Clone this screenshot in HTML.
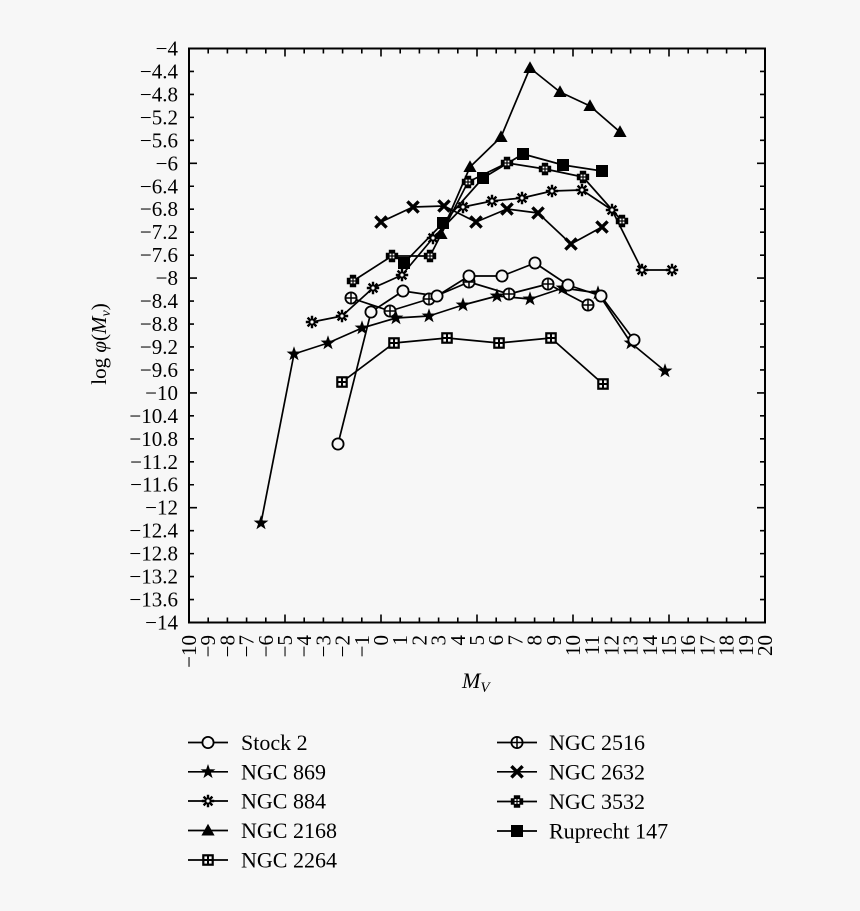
<!DOCTYPE html>
<html><head><meta charset="utf-8"><style>
html,body{margin:0;padding:0;background:#f7f7f7;}
svg{display:block;}
text{font-family:"Liberation Serif",serif;fill:#000;}
</style></head><body>
<svg width="860" height="911" viewBox="0 0 860 911" xmlns="http://www.w3.org/2000/svg">
<defs>
<g id="mCirc"><circle r="5.6" fill="#f7f7f7" stroke="#000" stroke-width="1.8"/></g>
<g id="mCircPlus"><circle r="5.6" fill="#f7f7f7" stroke="#000" stroke-width="1.8"/><path d="M-5.6 0H5.6M0 -5.6V5.6" stroke="#000" stroke-width="1.5"/></g>
<g id="mStar"><path d="M0,-7.8 L1.8,-2.5 L7.4,-2.4 L2.95,0.95 L4.6,6.3 L0,3.1 L-4.6,6.3 L-2.95,0.95 L-7.4,-2.4 L-1.8,-2.5 Z" fill="#000"/></g>
<g id="mAst"><path d="M-6.2 0H6.2M0 -6.2V6.2M-4.4 -4.4L4.4 4.4M-4.4 4.4L4.4 -4.4" stroke="#000" stroke-width="2.4"/><circle r="1.6" fill="#f7f7f7"/></g>
<g id="mTri"><path d="M0,-6.8 L6.6,5 L-6.6,5 Z" fill="#000"/></g>
<g id="mSqGrid"><rect x="-5.8" y="-5.8" width="11.6" height="11.6" fill="#000"/><rect x="-3.6" y="-3.6" width="2.6" height="2.6" fill="#f7f7f7"/><rect x="1" y="-3.6" width="2.6" height="2.6" fill="#f7f7f7"/><rect x="-3.6" y="1" width="2.6" height="2.6" fill="#f7f7f7"/><rect x="1" y="1" width="2.6" height="2.6" fill="#f7f7f7"/></g>
<g id="mX"><path d="M-5.6 -5.6L5.6 5.6M-5.6 5.6L5.6 -5.6" stroke="#000" stroke-width="3.4"/></g>
<g id="mPlusSq"><path d="M-3.2,-6.2 H3.2 V-3.2 H6.2 V3.2 H3.2 V6.2 H-3.2 V3.2 H-6.2 V-3.2 H-3.2 Z" fill="#000"/><rect x="-2.4" y="-2.4" width="1.8" height="1.8" fill="#f7f7f7"/><rect x="0.6" y="-2.4" width="1.8" height="1.8" fill="#f7f7f7"/><rect x="-2.4" y="0.6" width="1.8" height="1.8" fill="#f7f7f7"/><rect x="0.6" y="0.6" width="1.8" height="1.8" fill="#f7f7f7"/></g>
<g id="mSq"><rect x="-6" y="-6" width="12" height="12" fill="#000"/></g>
</defs>

<rect x="0" y="0" width="860" height="911" fill="#f7f7f7"/>

<!-- frame -->
<rect x="189" y="48.5" width="576" height="574" fill="none" stroke="#000" stroke-width="2"/>

<!-- ticks -->
<g stroke="#000" stroke-width="1.6" fill="none">
<path d="M189 71.46h5M189 94.42h5M189 117.38h5M189 140.34h5M189 163.3h8M189 186.26h5M189 209.22h5M189 232.18h5M189 255.14h5M189 278.1h8M189 301.06h5M189 324.02h5M189 346.98h5M189 369.94h5M189 392.9h8M189 415.86h5M189 438.82h5M189 461.78h5M189 484.74h5M189 507.7h8M189 530.66h5M189 553.62h5M189 576.58h5M189 599.54h5"/>
<path d="M765 71.46h-5M765 94.42h-5M765 117.38h-5M765 140.34h-5M765 163.3h-8M765 186.26h-5M765 209.22h-5M765 232.18h-5M765 255.14h-5M765 278.1h-8M765 301.06h-5M765 324.02h-5M765 346.98h-5M765 369.94h-5M765 392.9h-8M765 415.86h-5M765 438.82h-5M765 461.78h-5M765 484.74h-5M765 507.7h-8M765 530.66h-5M765 553.62h-5M765 576.58h-5M765 599.54h-5"/>
<path d="M208.2 622.5v-5M227.4 622.5v-5M246.6 622.5v-5M265.8 622.5v-5M285 622.5v-8M304.2 622.5v-5M323.4 622.5v-5M342.6 622.5v-5M361.8 622.5v-5M381 622.5v-8M400.2 622.5v-5M419.4 622.5v-5M438.6 622.5v-5M457.8 622.5v-5M477 622.5v-8M496.2 622.5v-5M515.4 622.5v-5M534.6 622.5v-5M553.8 622.5v-5M573 622.5v-8M592.2 622.5v-5M611.4 622.5v-5M630.6 622.5v-5M649.8 622.5v-5M669 622.5v-8M688.2 622.5v-5M707.4 622.5v-5M726.6 622.5v-5M745.8 622.5v-5"/>
<path d="M208.2 48.5v5M227.4 48.5v5M246.6 48.5v5M265.8 48.5v5M285 48.5v8M304.2 48.5v5M323.4 48.5v5M342.6 48.5v5M361.8 48.5v5M381 48.5v8M400.2 48.5v5M419.4 48.5v5M438.6 48.5v5M457.8 48.5v5M477 48.5v8M496.2 48.5v5M515.4 48.5v5M534.6 48.5v5M553.8 48.5v5M573 48.5v8M592.2 48.5v5M611.4 48.5v5M630.6 48.5v5M649.8 48.5v5M669 48.5v8M688.2 48.5v5M707.4 48.5v5M726.6 48.5v5M745.8 48.5v5"/>
</g>

<!-- y tick labels -->
<g font-size="21" text-anchor="end">
<text x="178" y="55.5">−4</text>
<text x="178" y="78.5">−4.4</text>
<text x="178" y="101.4">−4.8</text>
<text x="178" y="124.4">−5.2</text>
<text x="178" y="147.3">−5.6</text>
<text x="178" y="170.3">−6</text>
<text x="178" y="193.3">−6.4</text>
<text x="178" y="216.2">−6.8</text>
<text x="178" y="239.2">−7.2</text>
<text x="178" y="262.1">−7.6</text>
<text x="178" y="285.1">−8</text>
<text x="178" y="308.1">−8.4</text>
<text x="178" y="331">−8.8</text>
<text x="178" y="354">−9.2</text>
<text x="178" y="376.9">−9.6</text>
<text x="178" y="399.9">−10</text>
<text x="178" y="422.9">−10.4</text>
<text x="178" y="445.8">−10.8</text>
<text x="178" y="468.8">−11.2</text>
<text x="178" y="491.7">−11.6</text>
<text x="178" y="514.7">−12</text>
<text x="178" y="537.7">−12.4</text>
<text x="178" y="560.6">−12.8</text>
<text x="178" y="583.6">−13.2</text>
<text x="178" y="606.5">−13.6</text>
<text x="178" y="629.5">−14</text>
</g>

<!-- x tick labels (rotated) -->
<g font-size="21" text-anchor="end">
<text transform="translate(196,635) rotate(-90)">−10</text>
<text transform="translate(215.2,635) rotate(-90)">−9</text>
<text transform="translate(234.4,635) rotate(-90)">−8</text>
<text transform="translate(253.6,635) rotate(-90)">−7</text>
<text transform="translate(272.8,635) rotate(-90)">−6</text>
<text transform="translate(292,635) rotate(-90)">−5</text>
<text transform="translate(311.2,635) rotate(-90)">−4</text>
<text transform="translate(330.4,635) rotate(-90)">−3</text>
<text transform="translate(349.6,635) rotate(-90)">−2</text>
<text transform="translate(368.8,635) rotate(-90)">−1</text>
<text transform="translate(388,635) rotate(-90)">0</text>
<text transform="translate(407.2,635) rotate(-90)">1</text>
<text transform="translate(426.4,635) rotate(-90)">2</text>
<text transform="translate(445.6,635) rotate(-90)">3</text>
<text transform="translate(464.8,635) rotate(-90)">4</text>
<text transform="translate(484,635) rotate(-90)">5</text>
<text transform="translate(503.2,635) rotate(-90)">6</text>
<text transform="translate(522.4,635) rotate(-90)">7</text>
<text transform="translate(541.6,635) rotate(-90)">8</text>
<text transform="translate(560.8,635) rotate(-90)">9</text>
<text transform="translate(580,635) rotate(-90)">10</text>
<text transform="translate(599.2,635) rotate(-90)">11</text>
<text transform="translate(618.4,635) rotate(-90)">12</text>
<text transform="translate(637.6,635) rotate(-90)">13</text>
<text transform="translate(656.8,635) rotate(-90)">14</text>
<text transform="translate(676,635) rotate(-90)">15</text>
<text transform="translate(695.2,635) rotate(-90)">16</text>
<text transform="translate(714.4,635) rotate(-90)">17</text>
<text transform="translate(733.6,635) rotate(-90)">18</text>
<text transform="translate(752.8,635) rotate(-90)">19</text>
<text transform="translate(772,635) rotate(-90)">20</text>
</g>

<!-- axis labels -->
<text x="462" y="688" font-size="22" font-style="italic">M<tspan font-size="15" dy="4">V</tspan></text>
<text transform="translate(106,344) rotate(-90)" font-size="21" text-anchor="middle">log <tspan font-style="italic">φ</tspan>(<tspan font-style="italic">M</tspan><tspan font-size="14" font-style="italic" dy="4">v</tspan><tspan dy="-4">)</tspan></text>

<!-- series lines -->
<g fill="none" stroke="#000" stroke-width="1.7" stroke-linejoin="round">
<polyline points="338,444 371,312 403,291 437,296 469,276 502,276 535,263 568,285 601,296 634,340"/>
<polyline points="261,523 294,354 328,343 362,328 396,318 429,316 463,305 497,296 530,299 563,288 598,293 631,343 665,371"/>
<polyline points="312,322 342,316 373,288 402,275 433,238 463,207 492,201 522,198 552,191 582,190 612,210 642,270 672,270"/>
<polyline points="441,234 470,167 501,137 530,68 560,92 590,106 620,132"/>
<polyline points="342,382 394,343 447,338 499,343 551,338 603,384"/>
<polyline points="351,298 390,311 429,299 469,282 509,294 548,284 588,305"/>
<polyline points="381,222 413,207 444,206 476,222 507,209 538,213 571,244 602,227"/>
<polyline points="353,281 392,256 430,256 468,182 507,163 545,169 583,177 622,221"/>
<polyline points="404,263 443,223 483,178 523,154 563,165 602,171"/>
</g>

<!-- markers -->
<g>
<!-- NGC 2264 -->
<use href="#mSqGrid" x="342" y="382"/><use href="#mSqGrid" x="394" y="343"/><use href="#mSqGrid" x="447" y="338"/><use href="#mSqGrid" x="499" y="343"/><use href="#mSqGrid" x="551" y="338"/><use href="#mSqGrid" x="603" y="384"/>
<!-- NGC 869 -->
<use href="#mStar" x="261" y="523"/><use href="#mStar" x="294" y="354"/><use href="#mStar" x="328" y="343"/><use href="#mStar" x="362" y="328"/><use href="#mStar" x="396" y="318"/><use href="#mStar" x="429" y="316"/><use href="#mStar" x="463" y="305"/><use href="#mStar" x="497" y="296"/><use href="#mStar" x="530" y="299"/><use href="#mStar" x="563" y="288"/><use href="#mStar" x="598" y="293"/><use href="#mStar" x="631" y="343"/><use href="#mStar" x="665" y="371"/>
<!-- NGC 2516 -->
<use href="#mCircPlus" x="351" y="298"/><use href="#mCircPlus" x="390" y="311"/><use href="#mCircPlus" x="429" y="299"/><use href="#mCircPlus" x="469" y="282"/><use href="#mCircPlus" x="509" y="294"/><use href="#mCircPlus" x="548" y="284"/><use href="#mCircPlus" x="588" y="305"/>
<!-- Stock 2 -->
<use href="#mCirc" x="338" y="444"/><use href="#mCirc" x="371" y="312"/><use href="#mCirc" x="403" y="291"/><use href="#mCirc" x="437" y="296"/><use href="#mCirc" x="469" y="276"/><use href="#mCirc" x="502" y="276"/><use href="#mCirc" x="535" y="263"/><use href="#mCirc" x="568" y="285"/><use href="#mCirc" x="601" y="296"/><use href="#mCirc" x="634" y="340"/>
<!-- NGC 884 -->
<use href="#mAst" x="312" y="322"/><use href="#mAst" x="342" y="316"/><use href="#mAst" x="373" y="288"/><use href="#mAst" x="402" y="275"/><use href="#mAst" x="433" y="238"/><use href="#mAst" x="463" y="207"/><use href="#mAst" x="492" y="201"/><use href="#mAst" x="522" y="198"/><use href="#mAst" x="552" y="191"/><use href="#mAst" x="582" y="190"/><use href="#mAst" x="612" y="210"/><use href="#mAst" x="642" y="270"/><use href="#mAst" x="672" y="270"/>
<!-- NGC 2632 -->
<use href="#mX" x="381" y="222"/><use href="#mX" x="413" y="207"/><use href="#mX" x="444" y="206"/><use href="#mX" x="476" y="222"/><use href="#mX" x="507" y="209"/><use href="#mX" x="538" y="213"/><use href="#mX" x="571" y="244"/><use href="#mX" x="602" y="227"/>
<!-- NGC 3532 -->
<use href="#mPlusSq" x="353" y="281"/><use href="#mPlusSq" x="392" y="256"/><use href="#mPlusSq" x="430" y="256"/><use href="#mPlusSq" x="468" y="182"/><use href="#mPlusSq" x="507" y="163"/><use href="#mPlusSq" x="545" y="169"/><use href="#mPlusSq" x="583" y="177"/><use href="#mPlusSq" x="622" y="221"/>
<!-- Ruprecht 147 -->
<use href="#mSq" x="404" y="263"/><use href="#mSq" x="443" y="223"/><use href="#mSq" x="483" y="178"/><use href="#mSq" x="523" y="154"/><use href="#mSq" x="563" y="165"/><use href="#mSq" x="602" y="171"/>
<!-- NGC 2168 -->
<use href="#mTri" x="441" y="234"/><use href="#mTri" x="470" y="167"/><use href="#mTri" x="501" y="137"/><use href="#mTri" x="530" y="68"/><use href="#mTri" x="560" y="92"/><use href="#mTri" x="590" y="106"/><use href="#mTri" x="620" y="132"/>
</g>

<!-- legend -->
<g stroke="#000" stroke-width="1.7">
<path d="M188 742.5H228M188 771.8H228M188 801H228M188 830.5H228M188 860H228"/>
<path d="M497 742.5H537M497 771.8H537M497 801.5H537M497 831H537"/>
</g>
<use href="#mCirc" x="208" y="742.5"/>
<use href="#mStar" x="208" y="771.8"/>
<use href="#mAst" x="208" y="801"/>
<use href="#mTri" x="208" y="830.5"/>
<use href="#mSqGrid" x="208" y="860"/>
<use href="#mCircPlus" x="517" y="742.5"/>
<use href="#mX" x="517" y="771.8"/>
<use href="#mPlusSq" x="517" y="801.5"/>
<use href="#mSq" x="517" y="831"/>
<g font-size="22">
<text x="241" y="750">Stock 2</text>
<text x="241" y="779.3">NGC 869</text>
<text x="241" y="808.5">NGC 884</text>
<text x="241" y="838">NGC 2168</text>
<text x="241" y="867.5">NGC 2264</text>
<text x="549" y="750">NGC 2516</text>
<text x="549" y="779.3">NGC 2632</text>
<text x="549" y="809">NGC 3532</text>
<text x="549" y="838.5">Ruprecht 147</text>
</g>
</svg>
</body></html>
